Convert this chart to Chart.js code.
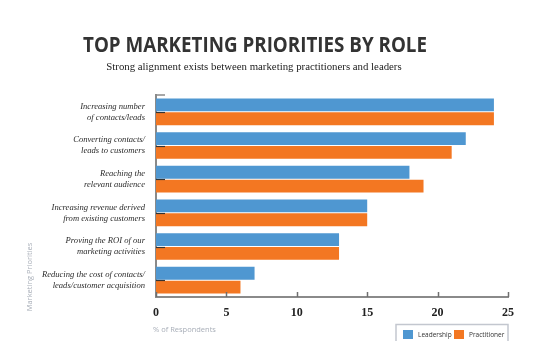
<!DOCTYPE html>
<html>
<head>
<meta charset="utf-8">
<script src="https://cdn.jsdelivr.net/npm/chart.js@4.4.1/dist/chart.umd.min.js"></script>
<style>
html,body{margin:0;padding:0;background:#fff;}
#wrap{position:relative;width:559px;height:360px;}
</style>
</head>
<body>
<div id="wrap"><canvas id="c" width="559" height="360"></canvas></div>
<script>
const categories = [
  ["Increasing number", "of contacts/leads"],
  ["Converting contacts/", "leads to customers"],
  ["Reaching the", "relevant audience"],
  ["Increasing revenue derived", "from existing customers"],
  ["Proving the ROI of our", "marketing activities"],
  ["Reducing the cost of contacts/", "leads/customer acquisition"]
];
const leadership = [24, 22, 18, 15, 13, 7];
const practitioner = [24, 21, 19, 15, 13, 6];
const xTicks = [0, 5, 10, 15, 20, 25];
const seriesNames = ["Leadership", "Practitioner"];
const titleText = "TOP MARKETING PRIORITIES BY ROLE";
const subtitleText = "Strong alignment exists between marketing practitioners and leaders";
const xTitle = "% of Respondents";
const yTitle = "Marketing Priorities";

const BLUE = "#4f97d1";
const ORANGE = "#f37722";

function fitText(ctx, text, cx, y, width) {
  const w = ctx.measureText(text).width;
  ctx.save();
  ctx.translate(cx, y);
  ctx.scale(width / w, 1);
  ctx.textAlign = 'center';
  ctx.fillText(text, 0, 0);
  ctx.restore();
}

const decor = {
  id: 'decor',
  afterDatasetsDraw(chart) {
    const ctx = chart.ctx;
    const ca = chart.chartArea;
    const xs = chart.scales.x, ys = chart.scales.y;
    ctx.save();
    // x tick marks (inward)
    ctx.strokeStyle = '#6f6f6f';
    ctx.lineWidth = 1.5;
    xTicks.forEach(v => {
      const px = Math.round(xs.getPixelForValue(v)) + 0.5;
      ctx.beginPath();
      ctx.moveTo(px, ca.bottom);
      ctx.lineTo(px, ca.bottom - 5);
      ctx.stroke();
    });
    // y tick marks (inward) at category centres
    ctx.strokeStyle = '#333';
    ctx.lineWidth = 1.2;
    categories.forEach((c, i) => {
      const py = Math.round(ys.getPixelForValue(i)) + 0.5;
      ctx.beginPath();
      ctx.moveTo(ca.left, py);
      ctx.lineTo(ca.left + 9, py);
      ctx.stroke();
    });
    // top tick
    ctx.strokeStyle = '#8a8a8a';
    ctx.lineWidth = 1.5;
    ctx.beginPath();
    ctx.moveTo(ca.left - 1, ca.top);
    ctx.lineTo(ca.left + 9, ca.top);
    ctx.stroke();

    // Title and subtitle
    ctx.fillStyle = '#333';
    ctx.textBaseline = 'alphabetic';
    ctx.font = 'bold 22px "Open Sans"';
    fitText(ctx, titleText, 255, 52, 344);
    ctx.fillStyle = '#222';
    ctx.font = '10.8px "Liberation Serif"';
    ctx.textAlign = 'center';
    ctx.fillText(subtitleText, 254, 70);

    // x title
    ctx.fillStyle = '#a8aeb8';
    ctx.textAlign = 'left';
    ctx.textBaseline = 'middle';
    ctx.font = '7.5px "Open Sans"';
    ctx.fillText(xTitle, 153, 330);

    // y title rotated
    ctx.save();
    ctx.translate(30, 277);
    ctx.rotate(-Math.PI / 2);
    ctx.textAlign = 'center';
    ctx.fillText(yTitle, 0, 0);
    ctx.restore();

    // legend box
    ctx.strokeStyle = '#c3c7cf';
    ctx.lineWidth = 1.5;
    ctx.beginPath();
    ctx.moveTo(396, 341);
    ctx.lineTo(396, 324.5);
    ctx.lineTo(508, 324.5);
    ctx.lineTo(508, 341);
    ctx.stroke();
    const ds = chart.data.datasets;
    const items = [{x: 403, tx: 418}, {x: 454, tx: 469}];
    ctx.font = '6.5px "Open Sans"';
    ctx.textBaseline = 'middle';
    ds.forEach((d, i) => {
      ctx.fillStyle = d.backgroundColor;
      ctx.fillRect(items[i].x, 330, 10, 9);
      ctx.fillStyle = '#333';
      ctx.fillText(d.label, items[i].tx, 335);
    });
    ctx.restore();
  }
};

new Chart(document.getElementById('c'), {
  type: 'bar',
  data: {
    labels: categories,
    datasets: [
      {label: seriesNames[0], data: leadership, backgroundColor: BLUE},
      {label: seriesNames[1], data: practitioner, backgroundColor: ORANGE}
    ]
  },
  options: {
    indexAxis: 'y',
    responsive: false,
    animation: false,
    devicePixelRatio: 1,
    layout: {padding: {left: 0, top: 95, right: 51, bottom: 0}},
    datasets: {bar: {categoryPercentage: 0.82, barPercentage: 0.93}},
    plugins: {legend: {display: false}, tooltip: {enabled: false}, title: {display: false}},
    scales: {
      x: {
        min: 0, max: 25,
        afterFit(s) { s.height = 63; },
        afterBuildTicks(s) { s.ticks = xTicks.map(v => ({value: v})); },
        grid: {display: false, drawTicks: false},
        border: {display: true, color: '#8a8a8a', width: 2},
        ticks: {
          padding: 9,
          color: '#222',
          font: {family: '"Liberation Serif"', size: 12, weight: 'bold'}
        }
      },
      y: {
        afterFit(s) { s.width = 156; },
        grid: {display: false, drawTicks: false},
        border: {display: true, color: '#8a8a8a', width: 2},
        ticks: {
          padding: 11,
          color: '#2b2b2b',
          font: {family: '"Liberation Serif"', size: 8.6, style: 'italic', lineHeight: 1.28}
        }
      }
    }
  },
  plugins: [decor]
});
</script>
</body>
</html>
